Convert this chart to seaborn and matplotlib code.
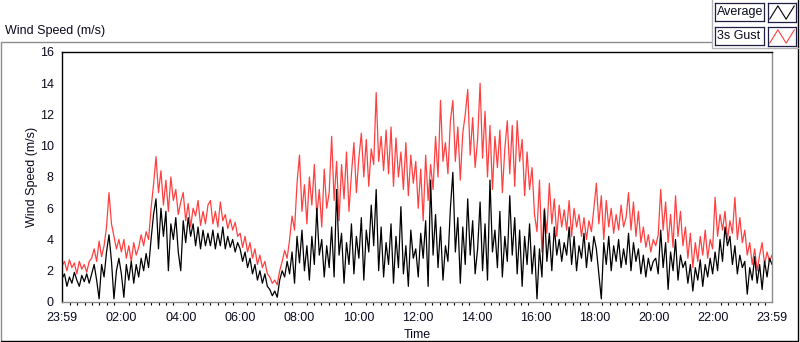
import numpy as np
import pandas as pd
import seaborn as sns
import matplotlib.pyplot as plt
import matplotlib.dates as mdates
from matplotlib.lines import Line2D

# 5-minute readings, 12 per hour
gust = [
    2.3, 2.6, 2.0, 2.7, 2.2, 2.5, 1.8, 2.6, 2.1, 2.4, 1.9, 2.6,
    2.8, 3.4, 2.6, 3.9, 2.9, 3.6, 4.8, 7.0, 5.0, 4.2, 3.4, 4.0,
    3.2, 4.0, 2.8, 3.6, 2.6, 3.8, 3.0, 3.5, 4.3, 3.6, 4.5, 4.0,
    6.0, 7.5, 9.3, 7.0, 8.4, 6.2, 7.8, 5.8, 8.0, 6.5, 7.2, 5.6,
    6.4, 7.0, 5.2, 6.3, 4.8, 6.0, 5.5, 6.5, 4.9, 5.8, 5.0, 6.2,
    6.5, 5.0, 5.8, 4.8, 6.4, 5.2, 5.6, 4.7, 5.3, 4.6, 5.1, 4.2,
    4.4, 3.5, 4.2, 3.2, 3.8, 2.8, 3.4, 2.4, 3.0, 2.2, 2.6, 1.8,
    1.6, 1.2, 1.4, 1.1, 2.0, 2.6, 3.3, 2.8, 4.0, 5.5, 4.6, 7.6,
    9.4, 5.8, 7.5, 5.0, 8.0, 6.2, 8.8, 5.5, 7.2, 4.8, 8.5, 6.0,
    7.0, 10.6, 6.5, 9.0, 5.2, 8.8, 6.6, 9.6, 5.8, 8.2, 10.2, 7.0,
    9.2, 10.8, 8.0, 10.4, 7.4, 9.8, 8.8, 13.4, 9.0, 10.6, 8.4, 11.0,
    8.2, 11.2, 7.4, 10.5, 8.0, 9.6, 7.2, 10.2, 6.8, 9.4, 7.6, 9.0,
    6.0, 8.5, 5.2, 9.4, 6.5, 8.8, 7.2, 10.6, 8.0, 12.9, 9.0, 10.2,
    8.2, 11.6, 12.9, 9.0, 11.2, 7.8, 10.8, 12.0, 13.6, 9.4, 11.8, 8.6,
    10.4, 14.0, 9.2, 12.2, 8.0, 11.3, 7.2, 10.6, 8.6, 11.0, 7.0, 9.8,
    11.6, 8.2, 11.3, 7.4, 11.6, 9.0, 10.4, 6.8, 9.6, 7.2, 8.6, 5.6,
    4.5, 7.8, 3.2, 6.0, 4.4, 7.6, 5.0, 6.6, 4.2, 6.2, 4.8, 5.9,
    4.6, 6.5, 4.2, 6.0, 4.8, 5.6, 4.2, 5.4, 4.0, 5.2, 4.5, 6.0,
    7.6, 5.0, 6.8, 4.0, 6.5, 4.8, 6.0, 4.4, 5.6, 4.6, 6.2, 4.8,
    5.4, 7.0, 4.6, 6.4, 4.2, 5.8, 3.8, 4.8, 3.5, 4.3, 3.2, 4.0,
    3.6, 4.3, 7.2, 4.6, 6.4, 3.8, 5.6, 3.5, 6.8, 4.2, 5.8, 3.6,
    4.8, 2.8, 4.4, 2.2, 3.8, 2.6, 4.2, 3.0, 4.6, 2.8, 4.0, 3.4,
    6.7, 4.2, 5.6, 4.6, 5.8, 4.0, 5.2, 4.4, 6.7, 4.0, 5.4, 3.8,
    4.6, 3.0, 3.8, 2.4, 3.4, 2.0, 3.0, 3.8, 2.4, 3.2, 2.6, 3.0,
]

average = [
    1.5, 1.8, 1.0, 1.6, 1.2, 1.9, 1.4, 1.0, 1.7, 1.3, 1.8, 1.2,
    1.8, 2.4, 1.4, 0.2, 2.4, 1.6, 3.2, 4.3, 2.6, 0.2, 2.0, 2.8,
    1.8, 0.3, 2.4, 1.4, 2.6, 1.2, 2.4, 1.6, 2.8, 2.0, 3.1, 2.2,
    4.0, 5.6, 6.6, 3.4, 6.0, 4.2, 5.8, 2.0, 5.0, 4.0, 5.4, 3.2,
    2.0, 5.2, 3.8, 5.4, 4.2, 5.0, 3.6, 4.8, 3.4, 4.6, 3.6, 4.4,
    3.6, 4.6, 3.4, 4.4, 3.6, 4.8, 3.4, 4.2, 3.5, 4.0, 3.2, 3.8,
    3.4, 2.6, 3.2, 2.2, 2.8, 1.8, 2.4, 1.4, 2.0, 1.2, 1.8, 1.0,
    0.8, 0.4, 0.7, 0.3, 1.4, 2.0, 1.6, 2.6, 1.8, 3.2, 1.2, 4.2,
    2.5, 4.6, 2.0, 3.6, 1.4, 4.2, 2.4, 6.0, 3.0, 4.0, 1.6, 3.6,
    2.2, 4.8, 1.6, 7.2, 3.0, 4.4, 1.2, 3.8, 2.4, 5.0, 1.8, 4.2,
    2.8, 5.4, 1.4, 4.6, 3.2, 6.2, 3.6, 7.2, 2.0, 4.8, 1.6, 3.8,
    2.4, 5.0, 1.2, 4.2, 2.2, 6.1, 1.8, 3.6, 1.0, 4.6, 2.8, 3.4,
    1.6, 4.4, 2.8, 5.2, 1.0, 7.8, 3.0, 5.6, 2.2, 4.8, 1.4, 3.6,
    2.6, 6.0, 8.3, 3.2, 5.4, 1.2, 4.8, 2.4, 6.6, 3.0, 5.2, 1.8,
    3.4, 6.4, 2.0, 5.0, 1.4, 7.8, 3.2, 4.6, 2.2, 5.8, 1.6, 4.2,
    2.6, 6.8, 3.0, 5.4, 1.8, 4.6, 1.0, 4.2, 2.4, 5.0, 1.8, 3.6,
    0.2, 3.4, 1.6, 5.9, 2.6, 4.4, 2.0, 4.8, 3.0, 4.0, 2.6, 3.8,
    3.0, 4.8, 2.4, 4.2, 2.0, 3.6, 2.8, 4.4, 2.2, 3.8, 2.6, 4.2,
    3.4, 1.8, 0.2, 3.8, 2.4, 4.2, 2.0, 3.6, 2.6, 4.0, 2.2, 3.4,
    2.4, 4.4, 2.0, 3.8, 2.6, 3.4, 1.8, 3.0, 1.6, 2.8, 2.0, 2.6,
    2.8, 1.8, 4.6, 2.2, 3.8, 0.8, 3.2, 2.0, 4.0, 1.4, 3.0, 2.2,
    2.6, 1.2, 2.4, 0.7, 2.2, 1.4, 2.7, 1.0, 2.4, 1.6, 2.8, 1.8,
    3.2, 2.0, 4.0, 2.6, 4.8, 3.6, 4.2, 2.4, 3.6, 1.8, 3.0, 2.2,
    2.6, 0.5, 2.2, 1.4, 2.9, 1.2, 2.4, 0.8, 2.6, 1.6, 2.8, 2.4,
]

t_start = pd.Timestamp("2020-01-01 23:59")
t_end = pd.Timestamp("2020-01-02 23:59")
tick_hours = [2, 4, 6, 8, 10, 12, 14, 16, 18, 20, 22]
y_ticks = [0, 2, 4, 6, 8, 10, 12, 14, 16]

times = pd.date_range(t_start, t_end, periods=len(gust))
df = pd.DataFrame({"Time": times, "gust": gust, "average": average})

sns.set_style("white")
plt.rcParams["font.family"] = ["Liberation Sans", "DejaVu Sans"]
txt = "#0a0a1e"
fs = 9

fig = plt.figure(figsize=(8, 3.42), dpi=100)
ax = fig.add_axes([0.0775, 0.117, 0.8875, 0.731])

sns.lineplot(data=df, x="Time", y="gust", color="#ff4040", linewidth=0.9, ax=ax)
sns.lineplot(data=df, x="Time", y="average", color="black", linewidth=0.9, ax=ax)

ax.set_xlim(t_start, t_end)
ax.set_ylim(0, 16)
ax.set_yticks(y_ticks)
ax.set_yticklabels([str(v) for v in y_ticks], fontsize=fs, color=txt)

major = [t_start] + [pd.Timestamp("2020-01-02") + pd.Timedelta(hours=h) for h in tick_hours] + [t_end]
ax.set_xticks(major)
ax.set_xticklabels([m.strftime("%H:%M") for m in major], fontsize=fs, color=txt)
minor = pd.date_range("2020-01-02 00:15", "2020-01-02 23:45", freq="15min")
ax.set_xticks(minor, minor=True)

ax.tick_params(axis="both", which="major", direction="out", length=4, width=0.8, color="black", pad=2)
ax.tick_params(axis="x", which="minor", direction="out", length=2.5, width=0.8, color="black", bottom=True)
ax.tick_params(axis="x", which="major", length=4.5, pad=3)

ax.set_xlabel("Time", fontsize=fs, color=txt, labelpad=3)
ax.set_ylabel("Wind Speed (m/s)", fontsize=fs, color=txt, labelpad=1)

for side, col in [("top", "black"), ("left", "black"), ("bottom", "#8c8c8c"), ("right", "#8c8c8c")]:
    ax.spines[side].set_visible(True)
    ax.spines[side].set_color(col)
    ax.spines[side].set_linewidth(1.0)

# LabVIEW-style panel frame
fig.text(5 / 800, 1 - 31 / 342, "Wind Speed (m/s)", fontsize=fs, color=txt, va="center", ha="left")
fig.add_artist(Line2D([0.001, 712 / 800], [1 - 42 / 342] * 2, color="#8c8c8c", lw=1))
fig.add_artist(Line2D([0.0015, 0.0015], [1 - 42 / 342, 0.003], color="#8c8c8c", lw=1))
fig.add_artist(Line2D([0.0015, 0.997], [0.003, 0.003], color="black", lw=1))
fig.add_artist(Line2D([0.997, 0.997], [0.003, 1.0], color="black", lw=1))
fig.add_artist(Line2D([712 / 800, 712 / 800], [1.0, 1 - 48 / 342], color="#b4b4b4", lw=1))
fig.add_artist(Line2D([712 / 800, 0.997], [1 - 48 / 342] * 2, color="#b4b4b4", lw=1))

# legend boxes
zig = [0.15, 0.85, 0.15, 0.85]
for i, (name, col) in enumerate([("Average", "black"), ("3s Gust", "#ff4040")]):
    top = 3 + 24 * i
    nax = fig.add_axes([715 / 800, 1 - (top + 18) / 342, 49 / 800, 18 / 342])
    nax.text(0.04, 0.5, name, fontsize=fs, color=txt, va="center", ha="left", transform=nax.transAxes)
    lax = fig.add_axes([768 / 800, 1 - (top + 19) / 342, 28 / 800, 19 / 342])
    lax.plot(range(len(zig)), zig, color=col, lw=0.8)
    lax.set_xlim(-0.2, len(zig) - 0.8)
    lax.set_ylim(0, 1)
    for a in (nax, lax):
        a.set_xticks([])
        a.set_yticks([])
        for s in a.spines.values():
            s.set_color("#1e1e46")
            s.set_linewidth(0.9)

fig.savefig("out.png", dpi=100, facecolor="white")
